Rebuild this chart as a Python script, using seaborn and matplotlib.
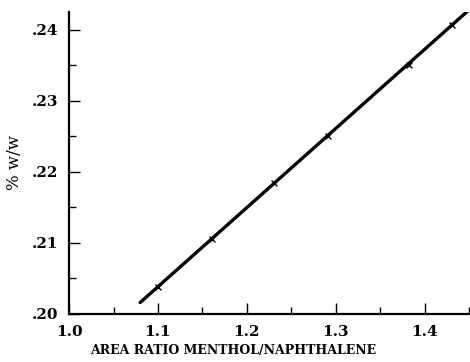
"""Calibration curve: % w/w menthol vs area ratio menthol/naphthalene"""
import matplotlib
matplotlib.use("Agg")
from matplotlib import pyplot as plt
from matplotlib.ticker import MultipleLocator, FixedFormatter, FixedLocator
import seaborn as sns
from pandas import DataFrame

# measured standards
area_ratio = [1.10, 1.161, 1.230, 1.291, 1.382, 1.431]
pct_ww = [0.2038, 0.2106, 0.2184, 0.2251, 0.2351, 0.2406]

# fitted line end points
fit_x = [1.08, 1.45]
fit_y = [0.2016, 0.2428]

x_ticks = [1.0, 1.1, 1.2, 1.3, 1.4]
x_labels = ["1.0", "1.1", "1.2", "1.3", "1.4"]
y_ticks = [0.20, 0.21, 0.22, 0.23, 0.24]
y_labels = [".20", ".21", ".22", ".23", ".24"]

sns.set_style("ticks")
plt.rcParams["font.family"] = ["DejaVu Serif"]
plt.rcParams["text.color"] = "black"
plt.rcParams["axes.labelcolor"] = "black"
plt.rcParams["xtick.labelcolor"] = "black"
plt.rcParams["ytick.labelcolor"] = "black"

fig = plt.figure(figsize=(4.7, 3.62), dpi=100)
ax = fig.add_axes([0.147, 0.133, 0.851, 0.834])

pts = DataFrame({"x": area_ratio, "y": pct_ww})
fit = DataFrame({"x": fit_x, "y": fit_y})
sns.lineplot(data=fit, x="x", y="y", color="black", linewidth=2.4, ax=ax)
sns.scatterplot(data=pts, x="x", y="y", marker="x", color="black", s=18,
                linewidth=1.0, ax=ax, zorder=3)

ax.set_xlim(1.0, 1.45)
ax.set_ylim(0.20, 0.2425)
ax.xaxis.set_major_locator(FixedLocator(x_ticks))
ax.xaxis.set_major_formatter(FixedFormatter(x_labels))
ax.yaxis.set_major_locator(FixedLocator(y_ticks))
ax.yaxis.set_major_formatter(FixedFormatter(y_labels))
ax.xaxis.set_minor_locator(MultipleLocator(0.05))
ax.yaxis.set_minor_locator(MultipleLocator(0.005))
ax.tick_params(which="major", direction="in", length=8, width=1.0,
               labelsize=11, pad=8, color="black", labelcolor="black")
ax.tick_params(which="minor", direction="in", length=5, width=1.0, color="black")
for lab in ax.get_xticklabels() + ax.get_yticklabels():
    lab.set_fontweight("bold")

sns.despine(ax=ax)
for s in ("left", "bottom"):
    ax.spines[s].set_linewidth(1.6)
    ax.spines[s].set_color("black")

ax.set_xlabel("AREA RATIO MENTHOL/NAPHTHALENE", fontsize=9,
              fontweight="bold", color="black")
ax.xaxis.set_label_coords(0.41, -0.1)
ax.set_ylabel("% w/w", fontsize=12, labelpad=6, color="black")

plt.savefig("out.png", dpi=100)
